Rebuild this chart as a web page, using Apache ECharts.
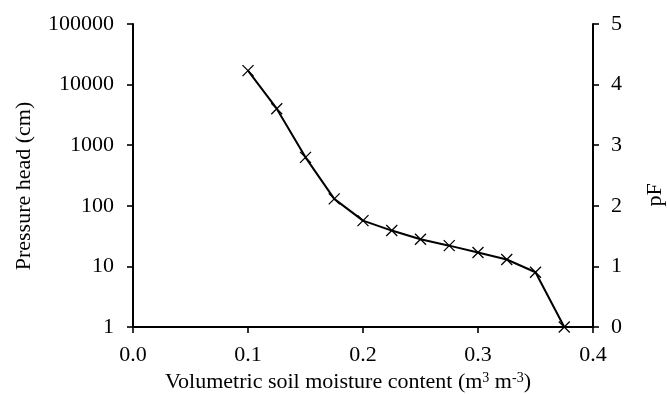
<!DOCTYPE html>
<html>
<head>
<meta charset="utf-8">
<script src="https://cdn.jsdelivr.net/npm/echarts@6/dist/echarts.min.js"></script>
<style>html,body{margin:0;padding:0;background:#fff}#c{width:667px;height:394px}</style>
</head>
<body>
<div id="c"></div>
<script>
// Volumetric soil moisture content (m3 m-3)
var theta = [0.1, 0.125, 0.15, 0.175, 0.2, 0.225, 0.25, 0.275, 0.3, 0.325, 0.35, 0.375];
// Pressure head (cm)
var head = [17000, 4000, 630, 130, 57, 39, 28, 22, 17, 13, 8, 1];
var xTickLabels = ['0.0', '0.1', '0.2', '0.3', '0.4'];
var yTickLabels = ['1', '10', '100', '1000', '10000', '100000'];
var pfTickLabels = ['0', '1', '2', '3', '4', '5'];

var FONT = '"Liberation Serif", "Times New Roman", serif';
var FS = 22;
var chart = echarts.init(document.getElementById('c'), null, {renderer: 'canvas'});
var axisLine = {show: true, lineStyle: {color: '#000', width: 2}};
var axisTick = {show: true, inside: false, length: 6, lineStyle: {color: '#000', width: 1.6}};
var lbl = {color: '#000', fontFamily: FONT, fontSize: FS};

chart.setOption({
  animation: false,
  backgroundColor: '#fff',
  grid: {left: 133, right: 74, top: 24, bottom: 67, containLabel: false},
  xAxis: {
    type: 'value', min: 0, max: 0.4, interval: 0.1,
    axisLine: axisLine, axisTick: axisTick, splitLine: {show: false},
    axisLabel: Object.assign({margin: 17, formatter: function (v) { return xTickLabels[Math.round(v * 10)]; }}, lbl)
  },
  yAxis: [{
    type: 'log', logBase: 10, min: 1, max: 100000,
    axisLine: axisLine, axisTick: axisTick, splitLine: {show: false}, minorTick: {show: false},
    axisLabel: Object.assign({margin: 19, formatter: function (v) { return yTickLabels[Math.round(Math.log10(v))]; }}, lbl)
  }, {
    type: 'value', min: 0, max: 5, interval: 1, position: 'right',
    axisLine: axisLine, axisTick: axisTick, splitLine: {show: false},
    axisLabel: Object.assign({margin: 18, formatter: function (v) { return pfTickLabels[Math.round(v)]; }}, lbl)
  }],
  graphic: [
    {type: 'text', x: 24, y: 186, rotation: Math.PI / 2,
     style: {text: 'Pressure head (cm)', font: FS + 'px ' + FONT, fill: '#000', align: 'center', verticalAlign: 'middle'}},
    {type: 'text', x: 655, y: 195, rotation: Math.PI / 2,
     style: {text: 'pF', font: FS + 'px ' + FONT, fill: '#000', align: 'center', verticalAlign: 'middle'}},
    {type: 'text', x: 348, y: 382,
     style: {
       text: 'Volumetric soil moisture content (m{s|3} m{s|-3})',
       fontFamily: FONT, fontSize: FS, fill: '#000', align: 'center', verticalAlign: 'middle',
       rich: {s: {fontFamily: FONT, fontSize: 14, verticalAlign: 'top', lineHeight: 14, fill: '#000'}}
     }}
  ],
  series: [{
    type: 'line',
    data: theta.map(function (t, i) { return [t, head[i]]; }),
    yAxisIndex: 0,
    lineStyle: {color: '#000', width: 2},
    symbol: 'path://M0,0L10,10M10,0L0,10',
    symbolSize: 11,
    itemStyle: {color: 'none', borderColor: '#000', borderWidth: 1.3},
    emphasis: {disabled: true}
  }]
});
</script>
</body>
</html>
